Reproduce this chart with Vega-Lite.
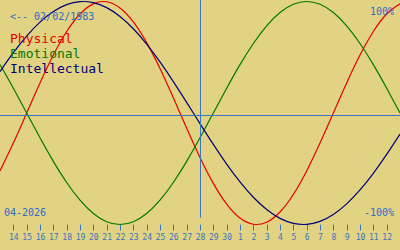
{
  "$schema": "https://vega.github.io/schema/vega-lite/v6.json",
  "autosize": {"type": "none"},
  "padding": {"left": 0, "top": 0, "right": 0, "bottom": 26},
  "width": 400,
  "height": 224,
  "background": "#e1d382",
  "config": {"view": {"stroke": null}},
  "layer": [
    {
      "data": {"values": [
        {"day": -1, "series": "Physical", "value": -0.5196},
        {"day": 0, "series": "Physical", "value": -0.2698},
        {"day": 1, "series": "Physical", "value": 0},
        {"day": 2, "series": "Physical", "value": 0.2698},
        {"day": 3, "series": "Physical", "value": 0.5196},
        {"day": 4, "series": "Physical", "value": 0.7308},
        {"day": 5, "series": "Physical", "value": 0.8879},
        {"day": 6, "series": "Physical", "value": 0.9791},
        {"day": 7, "series": "Physical", "value": 0.9977},
        {"day": 8, "series": "Physical", "value": 0.9423},
        {"day": 9, "series": "Physical", "value": 0.817},
        {"day": 10, "series": "Physical", "value": 0.6311},
        {"day": 11, "series": "Physical", "value": 0.3984},
        {"day": 12, "series": "Physical", "value": 0.1362},
        {"day": 13, "series": "Physical", "value": -0.1362},
        {"day": 14, "series": "Physical", "value": -0.3984},
        {"day": 15, "series": "Physical", "value": -0.6311},
        {"day": 16, "series": "Physical", "value": -0.817},
        {"day": 17, "series": "Physical", "value": -0.9423},
        {"day": 18, "series": "Physical", "value": -0.9977},
        {"day": 19, "series": "Physical", "value": -0.9791},
        {"day": 20, "series": "Physical", "value": -0.8879},
        {"day": 21, "series": "Physical", "value": -0.7308},
        {"day": 22, "series": "Physical", "value": -0.5196},
        {"day": 23, "series": "Physical", "value": -0.2698},
        {"day": 24, "series": "Physical", "value": 0},
        {"day": 25, "series": "Physical", "value": 0.2698},
        {"day": 26, "series": "Physical", "value": 0.5196},
        {"day": 27, "series": "Physical", "value": 0.7308},
        {"day": 28, "series": "Physical", "value": 0.8879},
        {"day": 29, "series": "Physical", "value": 0.9791},
        {"day": -1, "series": "Emotional", "value": 0.4339},
        {"day": 0, "series": "Emotional", "value": 0.2225},
        {"day": 1, "series": "Emotional", "value": 0},
        {"day": 2, "series": "Emotional", "value": -0.2225},
        {"day": 3, "series": "Emotional", "value": -0.4339},
        {"day": 4, "series": "Emotional", "value": -0.6235},
        {"day": 5, "series": "Emotional", "value": -0.7818},
        {"day": 6, "series": "Emotional", "value": -0.901},
        {"day": 7, "series": "Emotional", "value": -0.9749},
        {"day": 8, "series": "Emotional", "value": -1},
        {"day": 9, "series": "Emotional", "value": -0.9749},
        {"day": 10, "series": "Emotional", "value": -0.901},
        {"day": 11, "series": "Emotional", "value": -0.7818},
        {"day": 12, "series": "Emotional", "value": -0.6235},
        {"day": 13, "series": "Emotional", "value": -0.4339},
        {"day": 14, "series": "Emotional", "value": -0.2225},
        {"day": 15, "series": "Emotional", "value": 0},
        {"day": 16, "series": "Emotional", "value": 0.2225},
        {"day": 17, "series": "Emotional", "value": 0.4339},
        {"day": 18, "series": "Emotional", "value": 0.6235},
        {"day": 19, "series": "Emotional", "value": 0.7818},
        {"day": 20, "series": "Emotional", "value": 0.901},
        {"day": 21, "series": "Emotional", "value": 0.9749},
        {"day": 22, "series": "Emotional", "value": 1},
        {"day": 23, "series": "Emotional", "value": 0.9749},
        {"day": 24, "series": "Emotional", "value": 0.901},
        {"day": 25, "series": "Emotional", "value": 0.7818},
        {"day": 26, "series": "Emotional", "value": 0.6235},
        {"day": 27, "series": "Emotional", "value": 0.4339},
        {"day": 28, "series": "Emotional", "value": 0.2225},
        {"day": 29, "series": "Emotional", "value": 0},
        {"day": -1, "series": "Intellectual", "value": 0.3717},
        {"day": 0, "series": "Intellectual", "value": 0.5406},
        {"day": 1, "series": "Intellectual", "value": 0.6901},
        {"day": 2, "series": "Intellectual", "value": 0.8146},
        {"day": 3, "series": "Intellectual", "value": 0.9096},
        {"day": 4, "series": "Intellectual", "value": 0.9718},
        {"day": 5, "series": "Intellectual", "value": 0.9989},
        {"day": 6, "series": "Intellectual", "value": 0.9898},
        {"day": 7, "series": "Intellectual", "value": 0.945},
        {"day": 8, "series": "Intellectual", "value": 0.866},
        {"day": 9, "series": "Intellectual", "value": 0.7557},
        {"day": 10, "series": "Intellectual", "value": 0.6182},
        {"day": 11, "series": "Intellectual", "value": 0.4582},
        {"day": 12, "series": "Intellectual", "value": 0.2817},
        {"day": 13, "series": "Intellectual", "value": 0.0951},
        {"day": 14, "series": "Intellectual", "value": -0.0951},
        {"day": 15, "series": "Intellectual", "value": -0.2817},
        {"day": 16, "series": "Intellectual", "value": -0.4582},
        {"day": 17, "series": "Intellectual", "value": -0.6182},
        {"day": 18, "series": "Intellectual", "value": -0.7557},
        {"day": 19, "series": "Intellectual", "value": -0.866},
        {"day": 20, "series": "Intellectual", "value": -0.945},
        {"day": 21, "series": "Intellectual", "value": -0.9898},
        {"day": 22, "series": "Intellectual", "value": -0.9989},
        {"day": 23, "series": "Intellectual", "value": -0.9718},
        {"day": 24, "series": "Intellectual", "value": -0.9096},
        {"day": 25, "series": "Intellectual", "value": -0.8146},
        {"day": 26, "series": "Intellectual", "value": -0.6901},
        {"day": 27, "series": "Intellectual", "value": -0.5406},
        {"day": 28, "series": "Intellectual", "value": -0.3717},
        {"day": 29, "series": "Intellectual", "value": -0.1893}
      ]},
      "mark": {"type": "line", "interpolate": "natural", "strokeWidth": 1.2},
      "encoding": {
        "x": {
          "field": "day", "type": "quantitative",
          "scale": {"domain": [-1, 29], "nice": false, "zero": false},
          "axis": {
            "orient": "bottom", "title": null, "domain": false, "grid": false,
            "values": [0,1,2,3,4,5,6,7,8,9,10,11,12,13,14,15,16,17,18,19,20,21,22,23,24,25,26,27,28],
            "tickCount": 30,
            "labelExpr": "datum.value <= 16 ? datum.value + 14 : datum.value - 16",
            "tickColor": "#3a72c4", "tickSize": 6, "tickWidth": 1,
            "labelColor": "#3a72c4", "labelFont": "DejaVu Sans Mono", "labelFontSize": 8,
            "labelPadding": 3, "labelOverlap": false, "labelFlush": false
          }
        },
        "y": {"field": "value", "type": "quantitative", "axis": null, "scale": {"domain": [-0.9955, 1.0135], "nice": false, "zero": false}},
        "color": {
          "field": "series", "type": "nominal", "legend": null,
          "scale": {"domain": ["Physical", "Emotional", "Intellectual"], "range": ["#e60000", "#007a00", "#00007a"]}
        }
      }
    },
    {
      "data": {"values": [{"label": "line"}]},
      "mark": {"type": "rule", "color": "#3a72c4", "strokeWidth": 1},
      "encoding": {"y": {"datum": -0.0224, "type": "quantitative"}}
    },
    {
      "data": {"values": [{"label": "line"}]},
      "mark": {"type": "rule", "color": "#3a72c4", "strokeWidth": 1},
      "encoding": {
        "x": {"datum": 14.0375, "type": "quantitative"},
        "y": {"datum": 1.0135, "type": "quantitative"},
        "y2": {"datum": -0.94}
      }
    },
    {
      "data": {"values": [{"label": "<-- 02/02/1983"}]},
      "mark": {"type": "text", "align": "left", "baseline": "alphabetic", "font": "DejaVu Sans Mono", "fontSize": 10, "color": "#2f6cc8"},
      "encoding": {"x": {"datum": -0.25, "type": "quantitative"}, "y": {"datum": 0.834, "type": "quantitative"}, "text": {"field": "label"}}
    },
    {
      "data": {"values": [{"label": "100%"}]},
      "mark": {"type": "text", "align": "right", "baseline": "alphabetic", "font": "DejaVu Sans Mono", "fontSize": 10, "color": "#2f6cc8"},
      "encoding": {"x": {"datum": 28.55, "type": "quantitative"}, "y": {"datum": 0.876, "type": "quantitative"}, "text": {"field": "label"}}
    },
    {
      "data": {"values": [{"label": "-100%"}]},
      "mark": {"type": "text", "align": "right", "baseline": "alphabetic", "font": "DejaVu Sans Mono", "fontSize": 10, "color": "#2f6cc8"},
      "encoding": {"x": {"datum": 28.55, "type": "quantitative"}, "y": {"datum": -0.924, "type": "quantitative"}, "text": {"field": "label"}}
    },
    {
      "data": {"values": [{"label": "04-2026"}]},
      "mark": {"type": "text", "align": "left", "baseline": "alphabetic", "font": "DejaVu Sans Mono", "fontSize": 10, "color": "#2f6cc8"},
      "encoding": {"x": {"datum": -0.7, "type": "quantitative"}, "y": {"datum": -0.924, "type": "quantitative"}, "text": {"field": "label"}}
    },
    {
      "data": {"values": [{"label": "Physical"}]},
      "mark": {"type": "text", "align": "left", "baseline": "alphabetic", "font": "DejaVu Sans Mono", "fontSize": 13, "color": "#e60000"},
      "encoding": {"x": {"datum": -0.25, "type": "quantitative"}, "y": {"datum": 0.632, "type": "quantitative"}, "text": {"field": "label"}}
    },
    {
      "data": {"values": [{"label": "Emotional"}]},
      "mark": {"type": "text", "align": "left", "baseline": "alphabetic", "font": "DejaVu Sans Mono", "fontSize": 13, "color": "#007a00"},
      "encoding": {"x": {"datum": -0.25, "type": "quantitative"}, "y": {"datum": 0.496, "type": "quantitative"}, "text": {"field": "label"}}
    },
    {
      "data": {"values": [{"label": "Intellectual"}]},
      "mark": {"type": "text", "align": "left", "baseline": "alphabetic", "font": "DejaVu Sans Mono", "fontSize": 13, "color": "#00007a"},
      "encoding": {"x": {"datum": -0.25, "type": "quantitative"}, "y": {"datum": 0.361, "type": "quantitative"}, "text": {"field": "label"}}
    }
  ]
}
